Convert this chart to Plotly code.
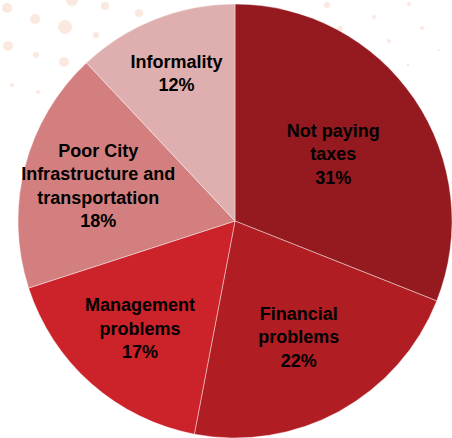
import plotly.graph_objects as go

categories = ["Not paying<br>taxes", "Financial<br>problems", "Management<br>problems",
              "Poor City<br>Infrastructure and<br>transportation", "Informality"]
values = [31, 22, 17, 18, 12]
colors = ["#941a1f", "#b01d23", "#cc2229", "#d47f7f", "#dfaeae"]

W, H = 452, 438

fig = go.Figure(go.Pie(
    labels=categories,
    values=values,
    sort=False,
    direction="clockwise",
    rotation=0,
    marker=dict(colors=colors, line=dict(color="rgba(255,255,255,0.6)", width=0.7)),
    texttemplate="<b>%{label}<br>%{percent:.0%}</b>",
    textposition="inside",
    insidetextorientation="horizontal",
    textfont=dict(family="Liberation Sans, Arial", size=18, color="black"),
    domain=dict(x=[18/W, 452/W], y=[0, 434/H]),
    showlegend=False,
    hoverinfo="label+percent",
))

# decorative background dots (x, y, r in pixels)
dots = [(7, 8, 5), (35, 19, 5), (65, 27, 7), (72, 0, 6), (105, 6, 4), (139, 13, 4),
        (8, 46, 5), (36, 55, 3), (64, 62, 5), (96, 35, 3), (12, 85, 2), (38, 92, 2),
        (327, 5, 3), (340, 29, 3), (374, 17, 2), (389, 41, 2), (409, 4, 2), (422, 28, 2),
        (408, 65, 1.5), (439, 50, 1)]
shapes = []
for x, y, r in dots:
    shapes.append(dict(type="circle", xref="paper", yref="paper", layer="below",
                       x0=(x - r) / W, x1=(x + r) / W, y0=1 - (y + r) / H, y1=1 - (y - r) / H,
                       fillcolor="#fbe8df", line=dict(width=0)))

fig.update_layout(
    width=W, height=H,
    margin=dict(l=0, r=0, t=0, b=0),
    paper_bgcolor="white",
    plot_bgcolor="white",
    shapes=shapes,
    uniformtext=dict(minsize=18, mode="show"),
)

fig.write_html("out.html", config={"displayModeBar": False},
               post_script="document.body.style.margin='0px';")
